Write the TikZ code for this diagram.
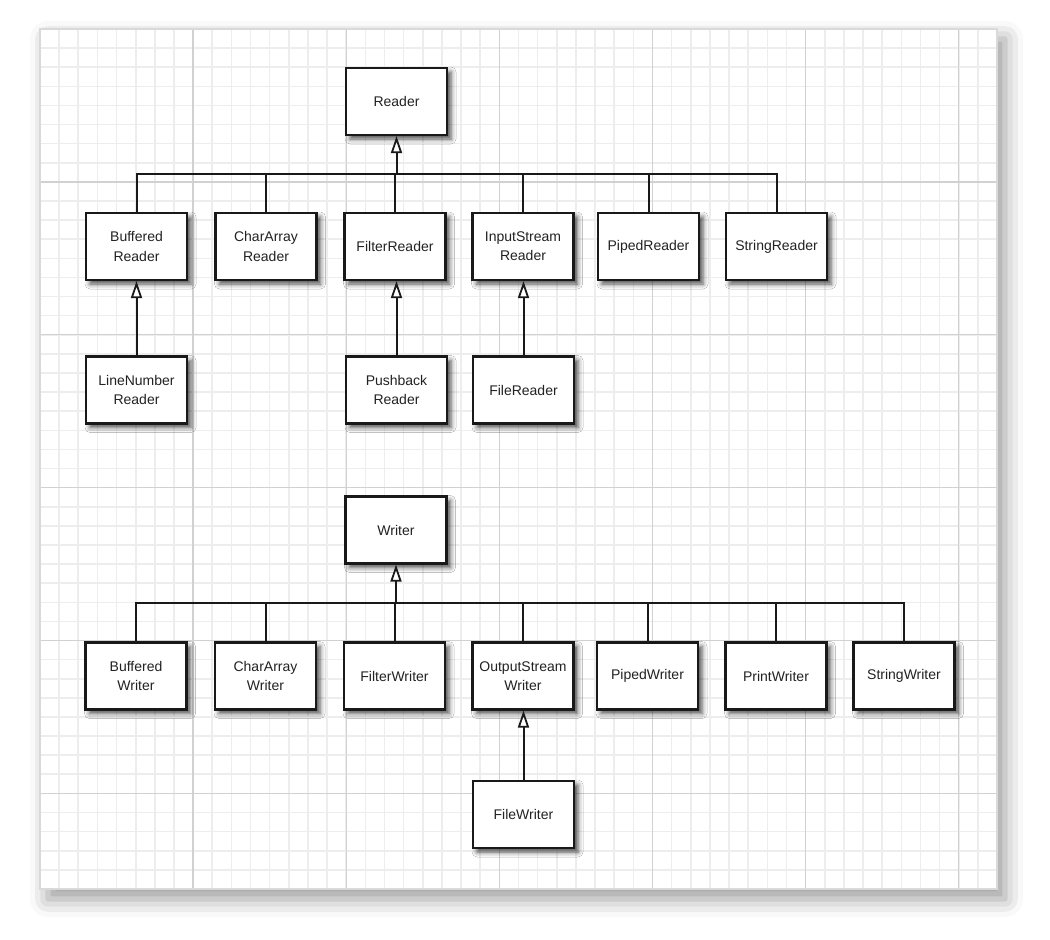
\documentclass[tikz,border=0pt]{standalone}
\usepackage{fontspec}
\setmainfont{Liberation Sans}
\usetikzlibrary{arrows.meta,shadows.blur}
\definecolor{txt}{HTML}{222222}
\tikzset{
  cls/.style={draw=black!90, line width=2.2pt, fill=white, minimum width=101pt, minimum height=67pt,
    inner sep=0pt, align=center, text=txt, font=\fontsize{14}{19.3}\selectfont,
    blur shadow={shadow xshift=4pt, shadow yshift=-4pt, shadow blur radius=5pt, shadow opacity=70}},
  conn/.style={draw=black!90, line width=2pt},
  inh/.style={conn, -{Triangle[open, fill=white, length=17pt, width=11pt, line width=1.8pt]}},
  minorgrid/.style={draw=gray!14, line width=1.6pt},
  majorgrid/.style={draw=gray!36, line width=1.4pt}
}
\begin{document}
\begin{tikzpicture}[x=1pt, y=-1pt]
\useasboundingbox (0,0) rectangle (1050,940);
% page
\fill[white, blur shadow={shadow xshift=8pt, shadow yshift=-10pt, shadow blur radius=18pt, shadow opacity=40}] (40,29) rectangle (997,889);
\foreach \i in {0,...,50} \draw[minorgrid] ({40+19.14*\i},29) -- ({40+19.14*\i},889);
\foreach \j in {0,...,45} \draw[minorgrid] (40,{29+19.11*\j}) -- (997,{29+19.11*\j});
\foreach \i in {8,16,...,48} \draw[majorgrid] ({40+19.14*\i},29) -- ({40+19.14*\i},889);
\foreach \j in {8,16,...,40} \draw[majorgrid] (40,{29+19.11*\j}) -- (997,{29+19.11*\j});
\draw[gray!30, line width=1.2pt] (40,29) rectangle (997,889);

% Reader hierarchy
\node[cls] (reader) at (396.5,101.5) {Reader};
\node[cls] (bufr) at (136.5,246.5) {Buffered\\Reader};
\node[cls] (carr) at (266,246.5) {CharArray\\Reader};
\node[cls] (filr) at (395,246.5) {FilterReader};
\node[cls] (isr) at (523,246.5) {InputStream\\Reader};
\node[cls] (pipr) at (648.5,246.5) {PipedReader};
\node[cls] (strr) at (776.5,246.5) {StringReader};
\node[cls] (lnr) at (136.5,390) {LineNumber\\Reader};
\node[cls] (pbr) at (396.5,390) {Pushback\\Reader};
\node[cls] (fr) at (523.5,390) {FileReader};
\coordinate (rbus) at (396.5,174);
\foreach \c in {bufr,carr,filr,isr,pipr,strr} \draw[conn] (\c.north) |- (rbus);
\draw[inh] (rbus) -- (reader.south);
\draw[inh] (lnr.north) -- (lnr.north |- bufr.south);
\draw[inh] (pbr.north) -- (pbr.north |- filr.south);
\draw[inh] (fr.north) -- (fr.north |- isr.south);

% Writer hierarchy
\node[cls] (writer) at (396,530) {Writer};
\node[cls] (bufw) at (136,676) {Buffered\\Writer};
\node[cls] (carw) at (265.5,676) {CharArray\\Writer};
\node[cls] (filw) at (394.5,676) {FilterWriter};
\node[cls] (osw) at (523,676) {OutputStream\\Writer};
\node[cls] (pipw) at (647.5,676) {PipedWriter};
\node[cls] (prw) at (776,676) {PrintWriter};
\node[cls] (strw) at (904,676) {StringWriter};
\node[cls] (fw) at (523.5,814.5) {FileWriter};
\coordinate (wbus) at (396,603);
\foreach \c in {bufw,carw,filw,osw,pipw,prw,strw} \draw[conn] (\c.north) |- (wbus);
\draw[inh] (wbus) -- (writer.south);
\draw[inh] (fw.north) -- (fw.north |- osw.south);
\end{tikzpicture}
\end{document}
